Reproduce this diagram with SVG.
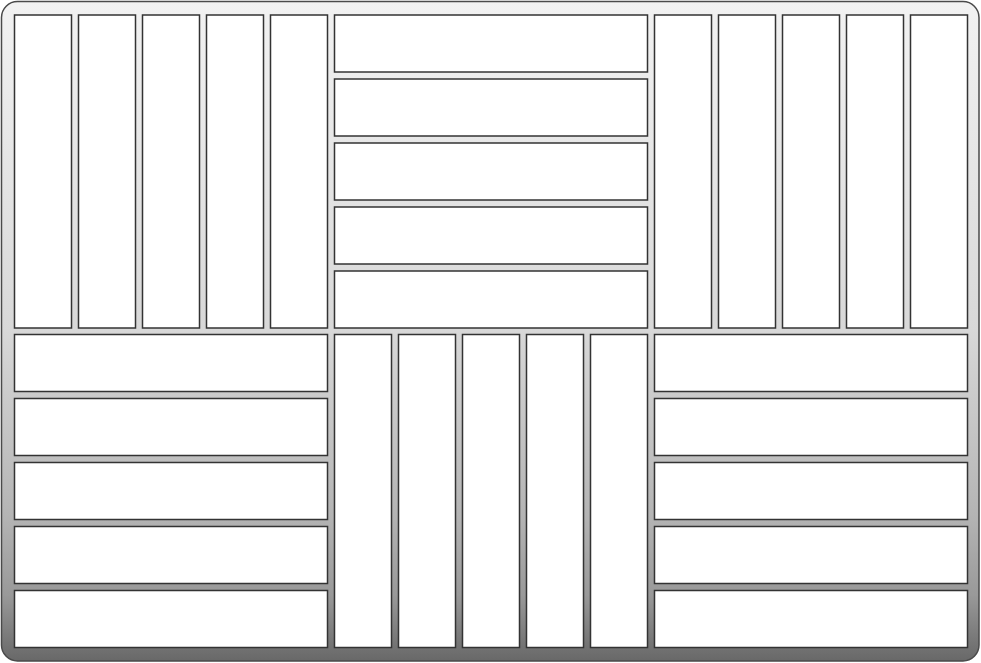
<svg xmlns="http://www.w3.org/2000/svg" width="981" height="663" viewBox="0 0 981 663">
<defs>
<linearGradient id="bg" x1="0" y1="0" x2="0" y2="1">
<stop offset="0" stop-color="#f2f2f2"/>
<stop offset="0.5" stop-color="#d8d8d8"/>
<stop offset="0.78" stop-color="#b4b4b4"/>
<stop offset="0.9" stop-color="#999999"/>
<stop offset="1" stop-color="#686868"/>
</linearGradient>
</defs>
<style>
.t{fill:#ffffff;stroke:#333333;stroke-width:1.5}
.frame{fill:url(#bg);stroke:#4a4a4a;stroke-width:1.5}
</style>
<rect id="frame" class="frame" x="1.5" y="1.5" width="977.5" height="659.5" rx="16" ry="16"/>
<g id="block-top-left">
<rect class="t" x="14.5" y="15" width="57" height="313"/>
<rect class="t" x="78.5" y="15" width="57" height="313"/>
<rect class="t" x="142.5" y="15" width="57" height="313"/>
<rect class="t" x="206.5" y="15" width="57" height="313"/>
<rect class="t" x="270.5" y="15" width="57" height="313"/>
</g>
<g id="block-top-center">
<rect class="t" x="334.5" y="15" width="313" height="57"/>
<rect class="t" x="334.5" y="79" width="313" height="57"/>
<rect class="t" x="334.5" y="143" width="313" height="57"/>
<rect class="t" x="334.5" y="207" width="313" height="57"/>
<rect class="t" x="334.5" y="271" width="313" height="57"/>
</g>
<g id="block-top-right">
<rect class="t" x="654.5" y="15" width="57" height="313"/>
<rect class="t" x="718.5" y="15" width="57" height="313"/>
<rect class="t" x="782.5" y="15" width="57" height="313"/>
<rect class="t" x="846.5" y="15" width="57" height="313"/>
<rect class="t" x="910.5" y="15" width="57" height="313"/>
</g>
<g id="block-bottom-left">
<rect class="t" x="14.5" y="334.5" width="313" height="57"/>
<rect class="t" x="14.5" y="398.5" width="313" height="57"/>
<rect class="t" x="14.5" y="462.5" width="313" height="57"/>
<rect class="t" x="14.5" y="526.5" width="313" height="57"/>
<rect class="t" x="14.5" y="590.5" width="313" height="57"/>
</g>
<g id="block-bottom-center">
<rect class="t" x="334.5" y="334.5" width="57" height="313"/>
<rect class="t" x="398.5" y="334.5" width="57" height="313"/>
<rect class="t" x="462.5" y="334.5" width="57" height="313"/>
<rect class="t" x="526.5" y="334.5" width="57" height="313"/>
<rect class="t" x="590.5" y="334.5" width="57" height="313"/>
</g>
<g id="block-bottom-right">
<rect class="t" x="654.5" y="334.5" width="313" height="57"/>
<rect class="t" x="654.5" y="398.5" width="313" height="57"/>
<rect class="t" x="654.5" y="462.5" width="313" height="57"/>
<rect class="t" x="654.5" y="526.5" width="313" height="57"/>
<rect class="t" x="654.5" y="590.5" width="313" height="57"/>
</g>
<g id="connectors"/>
</svg>
